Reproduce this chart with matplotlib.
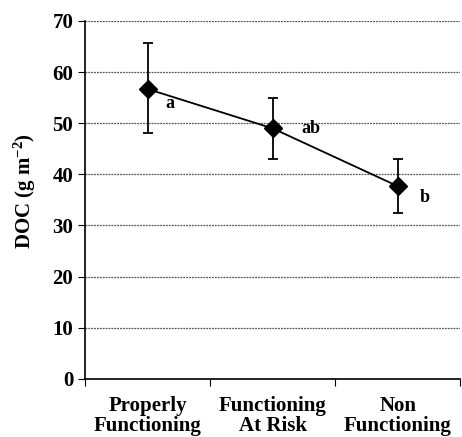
import matplotlib
matplotlib.use("Agg")
import matplotlib.pyplot as plt
import numpy as np

categories = ["Properly\nFunctioning", "Functioning\nAt Risk", "Non\nFunctioning"]
doc_mean = [56.7, 49.0, 37.7]
err_low = [8.6, 5.9, 5.2]
err_high = [9.0, 5.9, 5.3]
letters = ["a", "ab", "b"]

plt.rcParams['font.family'] = ['Liberation Serif', 'DejaVu Serif']
plt.rcParams['font.weight'] = 'bold'
plt.rcParams['mathtext.fontset'] = 'custom'
plt.rcParams['mathtext.rm'] = 'Liberation Serif:bold'
plt.rcParams['mathtext.bf'] = 'Liberation Serif:bold'
plt.rcParams['mathtext.default'] = 'bf'

fig = plt.figure(figsize=(4.62, 4.37), dpi=100)
ax = fig.add_axes([0.184, 0.133, 0.812, 0.819])

x = np.arange(len(categories)) + 0.5
ax.errorbar(x, doc_mean, yerr=[err_low, err_high], color='black', lw=1.3,
            marker='D', markersize=9.5, capsize=3.5, capthick=1.3, elinewidth=1.3)

offsets = [(0.18, -2.8), (0.31, 0.0), (0.22, -2.2)]
for xi, yi, lab, (dx, dy) in zip(x, doc_mean, letters, offsets):
    ax.text(xi + dx, yi + dy, lab, fontsize=13, fontweight='bold', va='center', ha='center')

ax.set_xlim(0, 3)
ax.set_ylim(0, 70)
ax.set_yticks(range(0, 71, 10))
ax.yaxis.grid(True, linestyle=(0, (1.5, 0.8)), color='#555555', lw=0.9)
ax.set_axisbelow(True)

ax.set_xticks([0, 1, 2, 3])
ax.set_xticklabels([])
ax.set_xticks(x, minor=True)
ax.set_xticklabels(categories, minor=True, fontsize=15, fontweight='bold', linespacing=1.05)
ax.tick_params(axis='x', which='minor', length=0, pad=12)
ax.tick_params(axis='x', which='major', length=5, direction='out')
ax.tick_params(axis='y', length=5, direction='out', labelsize=15)

for s in ['top', 'right']:
    ax.spines[s].set_visible(False)
ax.spines['left'].set_linewidth(1.2)
ax.spines['bottom'].set_linewidth(1.2)

ax.set_ylabel(r"DOC (g m$^{-2}$)", fontsize=15, fontweight='bold')
ax.yaxis.set_label_coords(-0.125, 0.525)

fig.savefig("out.png", dpi=100)
